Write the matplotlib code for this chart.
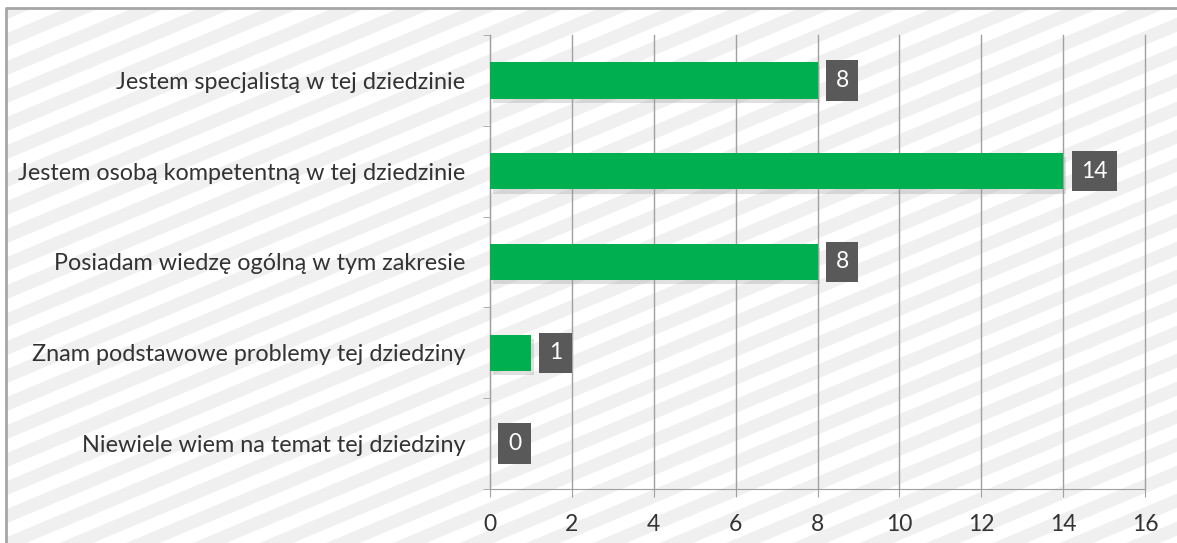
import numpy as np
import matplotlib.pyplot as plt
import matplotlib.patheffects as pe

categories = ["Jestem specjalistą w tej dziedzinie",
              "Jestem osobą kompetentną w tej dziedzinie",
              "Posiadam wiedzę ogólną w tym zakresie",
              "Znam podstawowe problemy tej dziedziny",
              "Niewiele wiem na temat tej dziedziny"]
values = [8, 14, 8, 1, 0]
xticks = [0, 2, 4, 6, 8, 10, 12, 14, 16]

plt.rcParams['font.family'] = ['Lato', 'DejaVu Sans']

W, H = 1177, 543
fig = plt.figure(figsize=(W/100, H/100), dpi=100)

# striped background in pixel coordinates
bg = fig.add_axes([0, 0, 1, 1])
bg.set_xlim(0, W)
bg.set_ylim(H, 0)
bg.axis('off')
slope = 0.42
period = 28
xs = np.array([0, W])
for c in np.arange(-20, H + slope*W + 60, period):
    y1 = c - slope*xs
    bg.fill_between(xs, y1, y1 + period/2, color='#f0f0f0', lw=0)
bg.fill_between([0, W], 0, 7, color='white', lw=0)
bg.fill_between([0, 6], 0, H, color='white', lw=0)
bg.plot([6, 6, W], [H, 8, 8], color='#a6a6a6', lw=2)

ax = fig.add_axes([490/W, 1-489/H, (1145-490)/W, (489-35)/H])
ax.patch.set_alpha(0)
y = np.arange(len(categories))
bars = ax.barh(y, values, height=0.4, color='#00b050', lw=0, zorder=3)
for b in bars:
    b.set_path_effects([pe.SimplePatchShadow(offset=(2, -3), shadow_rgbFace='#999999', alpha=0.3), pe.Normal()])
ax.set_ylim(len(categories)-0.5, -0.5)
ax.set_xlim(0, 16)
ax.set_xticks(xticks)
ax.set_xticklabels([str(t) for t in xticks], fontsize=16.5, color='#333333')
ax.set_yticks(y)
ax.set_yticklabels(categories, fontsize=16.8, color='#333333')
ax.set_yticks(np.arange(-0.5, len(categories), 1), minor=True)
ax.tick_params(axis='y', which='major', length=0, pad=18)
ax.tick_params(axis='y', which='minor', length=5, color='#a0a0a0', direction='out')
ax.tick_params(axis='x', length=6, color='#a0a0a0', pad=12)
ax.grid(axis='x', color='#a0a0a0', lw=1, zorder=1)
for gl in ax.get_xgridlines():
    gl.set_clip_on(False)
for s in ['top', 'right']:
    ax.spines[s].set_visible(False)
ax.spines['left'].set_color('#a0a0a0')
ax.spines['bottom'].set_color('#a0a0a0')

for yi, v in zip(y, values):
    ax.annotate(str(v), (v, yi), xytext=(18, 0), textcoords='offset pixels',
                ha='left', va='center', fontsize=16.5, color='white', zorder=4,
                bbox=dict(boxstyle='square,pad=0.42', fc='#595959', ec='none'))

fig.savefig('out.png', dpi=100)
